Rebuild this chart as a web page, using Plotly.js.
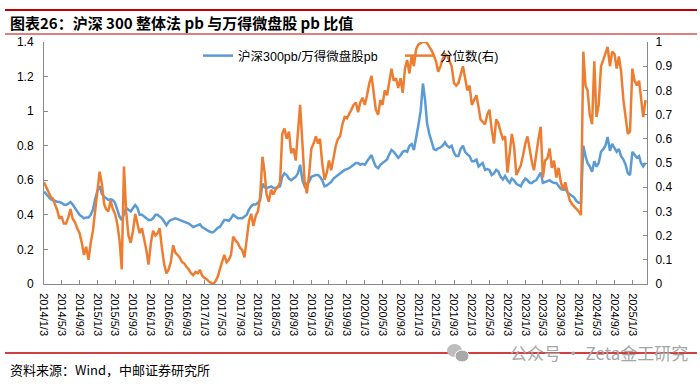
<!DOCTYPE html>
<html>
<head>
<meta charset="utf-8">
<script src="https://cdn.plot.ly/plotly-3.0.1.min.js"></script>
<style>html,body{margin:0;padding:0;background:#fff;}#chart{width:700px;height:384px;}</style>
</head>
<body>
<div id="chart"></div>
<script>
// Dates (semi-monthly observations)
const dates = [
'2014-01-03','2014-01-18','2014-02-03','2014-02-18','2014-03-03','2014-03-18','2014-04-03','2014-04-18','2014-05-03','2014-05-18','2014-06-03','2014-06-18','2014-07-03','2014-07-18','2014-08-03','2014-08-18','2014-09-03','2014-09-18','2014-10-03','2014-10-18','2014-11-03','2014-11-18','2014-12-03','2014-12-18',
'2015-01-03','2015-01-18','2015-02-03','2015-02-18','2015-03-03','2015-03-18','2015-04-03','2015-04-18','2015-05-03','2015-05-18','2015-06-03','2015-06-18','2015-07-03','2015-07-18','2015-08-03','2015-08-18','2015-09-03','2015-09-18','2015-10-03','2015-10-18','2015-11-03','2015-11-18','2015-12-03','2015-12-18',
'2016-01-03','2016-01-18','2016-02-03','2016-02-18','2016-03-03','2016-03-18','2016-04-03','2016-04-18','2016-05-03','2016-05-18','2016-06-03','2016-06-18','2016-07-03','2016-07-18','2016-08-03','2016-08-18','2016-09-03','2016-09-18','2016-10-03','2016-10-18','2016-11-03','2016-11-18','2016-12-03','2016-12-18',
'2017-01-03','2017-01-18','2017-02-03','2017-02-18','2017-03-03','2017-03-18','2017-04-03','2017-04-18','2017-05-03','2017-05-18','2017-06-03','2017-06-18','2017-07-03','2017-07-18','2017-08-03','2017-08-18','2017-09-03','2017-09-18','2017-10-03','2017-10-18','2017-11-03','2017-11-18','2017-12-03','2017-12-18',
'2018-01-03','2018-01-18','2018-02-03','2018-02-18','2018-03-03','2018-03-18','2018-04-03','2018-04-18','2018-05-03','2018-05-18','2018-06-03','2018-06-18','2018-07-03','2018-07-18','2018-08-03','2018-08-18','2018-09-03','2018-09-18','2018-10-03','2018-10-18','2018-11-03','2018-11-18','2018-12-03','2018-12-18',
'2019-01-03','2019-01-18','2019-02-03','2019-02-18','2019-03-03','2019-03-18','2019-04-03','2019-04-18','2019-05-03','2019-05-18','2019-06-03','2019-06-18','2019-07-03','2019-07-18','2019-08-03','2019-08-18','2019-09-03','2019-09-18','2019-10-03','2019-10-18','2019-11-03','2019-11-18','2019-12-03','2019-12-18',
'2020-01-03','2020-01-18','2020-02-03','2020-02-18','2020-03-03','2020-03-18','2020-04-03','2020-04-18','2020-05-03','2020-05-18','2020-06-03','2020-06-18','2020-07-03','2020-07-18','2020-08-03','2020-08-18','2020-09-03','2020-09-18','2020-10-03','2020-10-18','2020-11-03','2020-11-18','2020-12-03','2020-12-18',
'2021-01-03','2021-01-18','2021-02-03','2021-02-18','2021-03-03','2021-03-18','2021-04-03','2021-04-18','2021-05-03','2021-05-18','2021-06-03','2021-06-18','2021-07-03','2021-07-18','2021-08-03','2021-08-18','2021-09-03','2021-09-18','2021-10-03','2021-10-18','2021-11-03','2021-11-18','2021-12-03','2021-12-18',
'2022-01-03','2022-01-18','2022-02-03','2022-02-18','2022-03-03','2022-03-18','2022-04-03','2022-04-18','2022-05-03','2022-05-18','2022-06-03','2022-06-18','2022-07-03','2022-07-18','2022-08-03','2022-08-18','2022-09-03','2022-09-18','2022-10-03','2022-10-18','2022-11-03','2022-11-18','2022-12-03','2022-12-18',
'2023-01-03','2023-01-18','2023-02-03','2023-02-18','2023-03-03','2023-03-18','2023-04-03','2023-04-18','2023-05-03','2023-05-18','2023-06-03','2023-06-18','2023-07-03','2023-07-18','2023-08-03','2023-08-18','2023-09-03','2023-09-18','2023-10-03','2023-10-18','2023-11-03','2023-11-18','2023-12-03','2023-12-18',
'2024-01-03','2024-01-18','2024-02-03','2024-02-18','2024-03-03','2024-03-18','2024-04-03','2024-04-18','2024-05-03','2024-05-18','2024-06-03','2024-06-18','2024-07-03','2024-07-18','2024-08-03','2024-08-18','2024-09-03','2024-09-18','2024-10-03','2024-10-18','2024-11-03','2024-11-18','2024-12-03','2024-12-18',
'2025-01-03','2025-01-18','2025-02-03','2025-02-18','2025-03-03','2025-03-18','2025-04-03'
];

// 沪深300pb / 万得微盘股pb (left axis)
const pbRatio = [
0.534,0.52,0.50,0.49,0.486,0.48,0.476,0.475,0.47,0.46,0.457,0.465,0.475,0.46,0.44,0.42,0.40,0.39,0.38,0.385,0.385,0.40,0.43,0.49,
0.54,0.567,0.52,0.505,0.495,0.486,0.49,0.486,0.47,0.43,0.39,0.37,0.41,0.44,0.43,0.42,0.44,0.457,0.44,0.40,0.40,0.39,0.38,0.37,
0.37,0.38,0.40,0.40,0.39,0.38,0.36,0.34,0.36,0.37,0.375,0.38,0.375,0.37,0.365,0.36,0.355,0.35,0.34,0.33,0.335,0.34,0.345,0.33,
0.32,0.316,0.305,0.30,0.30,0.31,0.325,0.33,0.35,0.37,0.37,0.365,0.38,0.40,0.39,0.38,0.38,0.38,0.39,0.40,0.43,0.45,0.46,0.46,
0.47,0.485,0.58,0.56,0.555,0.56,0.565,0.555,0.555,0.56,0.565,0.62,0.64,0.63,0.61,0.60,0.61,0.62,0.64,0.69,0.60,0.565,0.58,0.59,
0.62,0.625,0.63,0.63,0.62,0.60,0.565,0.57,0.58,0.59,0.61,0.62,0.63,0.64,0.65,0.66,0.665,0.67,0.68,0.69,0.70,0.70,0.69,0.695,
0.69,0.71,0.73,0.746,0.71,0.68,0.67,0.69,0.70,0.71,0.72,0.75,0.775,0.765,0.75,0.73,0.745,0.765,0.77,0.765,0.80,0.81,0.775,0.84,
0.92,1.0,1.16,1.06,0.93,0.87,0.83,0.78,0.775,0.785,0.79,0.80,0.82,0.80,0.79,0.80,0.76,0.74,0.74,0.78,0.80,0.765,0.75,0.74,
0.71,0.71,0.72,0.68,0.69,0.70,0.66,0.665,0.66,0.63,0.64,0.66,0.65,0.62,0.605,0.625,0.60,0.585,0.61,0.60,0.58,0.57,0.565,0.59,
0.61,0.60,0.585,0.585,0.595,0.60,0.62,0.645,0.585,0.59,0.595,0.60,0.59,0.585,0.585,0.57,0.55,0.545,0.55,0.53,0.52,0.51,0.50,0.48,
0.47,0.47,0.80,0.74,0.70,0.68,0.65,0.71,0.68,0.70,0.765,0.78,0.80,0.85,0.77,0.81,0.79,0.765,0.78,0.74,0.72,0.69,0.64,0.63,
0.765,0.75,0.73,0.74,0.70,0.68,0.70
];

// 分位数 (right axis)
const percentile = [
0.42,0.40,0.375,0.36,0.354,0.33,0.306,0.27,0.28,0.25,0.25,0.275,0.31,0.27,0.255,0.23,0.21,0.17,0.12,0.154,0.10,0.17,0.22,0.30,
0.40,0.464,0.41,0.33,0.31,0.30,0.345,0.31,0.29,0.25,0.18,0.06,0.485,0.30,0.20,0.17,0.22,0.29,0.25,0.21,0.23,0.19,0.14,0.08,
0.17,0.22,0.20,0.21,0.23,0.15,0.08,0.044,0.06,0.09,0.16,0.13,0.12,0.11,0.09,0.085,0.07,0.06,0.045,0.037,0.05,0.044,0.058,0.035,
0.025,0.02,0.01,0.005,0.0,0.01,0.03,0.06,0.09,0.12,0.09,0.10,0.12,0.196,0.18,0.17,0.15,0.14,0.11,0.196,0.26,0.29,0.24,0.28,
0.30,0.36,0.526,0.46,0.37,0.34,0.39,0.37,0.39,0.40,0.42,0.62,0.643,0.60,0.63,0.54,0.56,0.51,0.62,0.74,0.58,0.42,0.375,0.45,
0.56,0.58,0.61,0.58,0.60,0.50,0.43,0.46,0.51,0.47,0.52,0.57,0.60,0.61,0.66,0.69,0.685,0.70,0.72,0.74,0.75,0.71,0.75,0.77,
0.74,0.78,0.83,0.86,0.78,0.72,0.70,0.76,0.74,0.80,0.78,0.83,0.89,0.84,0.85,0.81,0.85,0.79,0.89,0.926,0.87,0.946,0.90,0.97,
0.99,0.995,1.0,1.0,0.995,0.98,0.965,0.945,0.92,0.877,0.90,0.93,0.95,0.945,0.92,0.90,0.83,0.82,0.83,0.86,0.90,0.85,0.80,0.82,
0.74,0.76,0.78,0.73,0.68,0.67,0.66,0.70,0.72,0.64,0.58,0.68,0.664,0.63,0.60,0.61,0.46,0.54,0.62,0.57,0.45,0.47,0.49,0.53,
0.58,0.61,0.55,0.50,0.47,0.54,0.60,0.65,0.44,0.51,0.52,0.56,0.48,0.51,0.44,0.48,0.42,0.39,0.42,0.38,0.345,0.33,0.32,0.31,
0.30,0.285,0.96,0.82,0.80,0.70,0.66,0.92,0.69,0.74,0.90,0.925,0.95,0.98,0.90,0.96,0.95,0.89,0.94,0.88,0.76,0.68,0.62,0.63,
0.89,0.84,0.82,0.84,0.77,0.69,0.76
];

// x-axis tick labels
const tickLabels = [
'2014/1/3','2014/5/3','2014/9/3','2015/1/3','2015/5/3','2015/9/3','2016/1/3','2016/5/3','2016/9/3',
'2017/1/3','2017/5/3','2017/9/3','2018/1/3','2018/5/3','2018/9/3','2019/1/3','2019/5/3','2019/9/3',
'2020/1/3','2020/5/3','2020/9/3','2021/1/3','2021/5/3','2021/9/3','2022/1/3','2022/5/3','2022/9/3',
'2023/1/3','2023/5/3','2023/9/3','2024/1/3','2024/5/3','2024/9/3','2025/1/3'
];
const seriesNames = ['沪深300pb/万得微盘股pb', '分位数(右)'];

const tickDates = tickLabels.map(s => {
  const p = s.split('/');
  return p[0] + '-' + p[1].padStart(2,'0') + '-' + p[2].padStart(2,'0');
});

// geometry helpers (pixel -> paper) for decoration placement
const PL = 44, PR = 53, PT = 42, PB = 100, W = 700, H = 384;
const pw = W - PL - PR, ph = H - PT - PB;
const px = x => (x - PL) / pw;
const py = y => (H - PB - y) / ph;

const axisCol = '#898989';
const tickFont = {family: 'Liberation Sans, Arial, sans-serif', size: 12, color: '#000'};

const traces = [
  {x: dates, y: pbRatio, name: seriesNames[0], type: 'scatter', mode: 'lines',
   line: {color: '#5B9BD5', width: 2.5}, yaxis: 'y'},
  {x: dates, y: percentile, name: seriesNames[1], type: 'scatter', mode: 'lines',
   line: {color: '#ED7D31', width: 2.5}, yaxis: 'y2'}
];

const layout = {
  width: W, height: H,
  margin: {l: PL, r: PR, t: PT, b: PB, pad: 0},
  paper_bgcolor: '#fff', plot_bgcolor: 'rgba(0,0,0,0)',
  showlegend: true,
  legend: {
    orientation: 'h', x: px(198), xanchor: 'left', y: py(56), yanchor: 'middle',
    bgcolor: 'rgba(0,0,0,0)', borderwidth: 0,
    font: {family: 'Liberation Sans, Noto Sans CJK SC, sans-serif', size: 12.5, color: '#000'},
    entrywidth: 157, entrywidthmode: 'pixels'
  },
  xaxis: {
    type: 'date', range: ['2014-01-03', '2025-04-13'],
    tickmode: 'array', tickvals: tickDates, ticktext: tickLabels,
    tickangle: 90, tickfont: {family: 'Liberation Sans, Arial, sans-serif', size: 11, color: '#000'},
    ticks: 'inside', ticklen: 4, tickcolor: axisCol, tickwidth: 1,
    showline: true, linecolor: axisCol, linewidth: 1,
    showgrid: false, zeroline: false, ticklabelstandoff: 6
  },
  yaxis: {
    range: [0, 1.4], dtick: 0.2, tick0: 0,
    tickfont: tickFont,
    ticks: 'inside', ticklen: 4, tickcolor: axisCol,
    showline: true, linecolor: axisCol, linewidth: 1,
    showgrid: false, zeroline: false, ticklabelstandoff: 7
  },
  yaxis2: {
    range: [0, 1], dtick: 0.1, tick0: 0, overlaying: 'y', side: 'right',
    tickfont: tickFont,
    ticks: 'inside', ticklen: 4, tickcolor: axisCol,
    showline: true, linecolor: axisCol, linewidth: 1,
    showgrid: false, zeroline: false, ticklabelstandoff: 5
  },
  shapes: [
    {type: 'line', xref: 'paper', yref: 'paper', x0: px(5), x1: px(697), y0: py(10), y1: py(10),
     line: {color: '#C00000', width: 2}},
    {type: 'line', xref: 'paper', yref: 'paper', x0: px(5), x1: px(697), y0: py(34), y1: py(34),
     line: {color: '#C00000', width: 1}},
    {type: 'line', xref: 'paper', yref: 'paper', x0: px(5), x1: px(697), y0: py(353), y1: py(353),
     line: {color: '#C00000', width: 1.5}},
    {type: 'circle', xref: 'paper', yref: 'paper', x0: px(447), x1: px(462), y0: py(357), y1: py(344),
     fillcolor: '#bdbdbd', line: {width: 0}},
    {type: 'circle', xref: 'paper', yref: 'paper', x0: px(455), x1: px(469), y0: py(362), y1: py(350),
     fillcolor: '#a9a9a9', line: {color: '#fff', width: 1}}
  ],
  annotations: [
    {text: '<b>图表26：沪深 300 整体法 pb 与万得微盘股 pb 比值</b>', xref: 'paper', yref: 'paper',
     x: px(8), y: py(22), xanchor: 'left', yanchor: 'middle', showarrow: false,
     font: {family: 'Noto Sans CJK SC, sans-serif', size: 15, color: '#000'}},
    {text: '资料来源：Wind，中邮证券研究所', xref: 'paper', yref: 'paper',
     x: px(8), y: py(369), xanchor: 'left', yanchor: 'middle', showarrow: false,
     font: {family: 'Noto Sans CJK SC, sans-serif', size: 13, color: '#000'}},
    {text: '公众号 · Zeta金工研究', xref: 'paper', yref: 'paper',
     x: px(690), y: py(352), xanchor: 'right', yanchor: 'middle', showarrow: false,
     font: {family: 'Noto Sans CJK SC, sans-serif', size: 17, color: '#a6a6a6'}}
  ]
};

Plotly.newPlot('chart', traces, layout, {displayModeBar: false, staticPlot: true});
</script>
</body>
</html>
